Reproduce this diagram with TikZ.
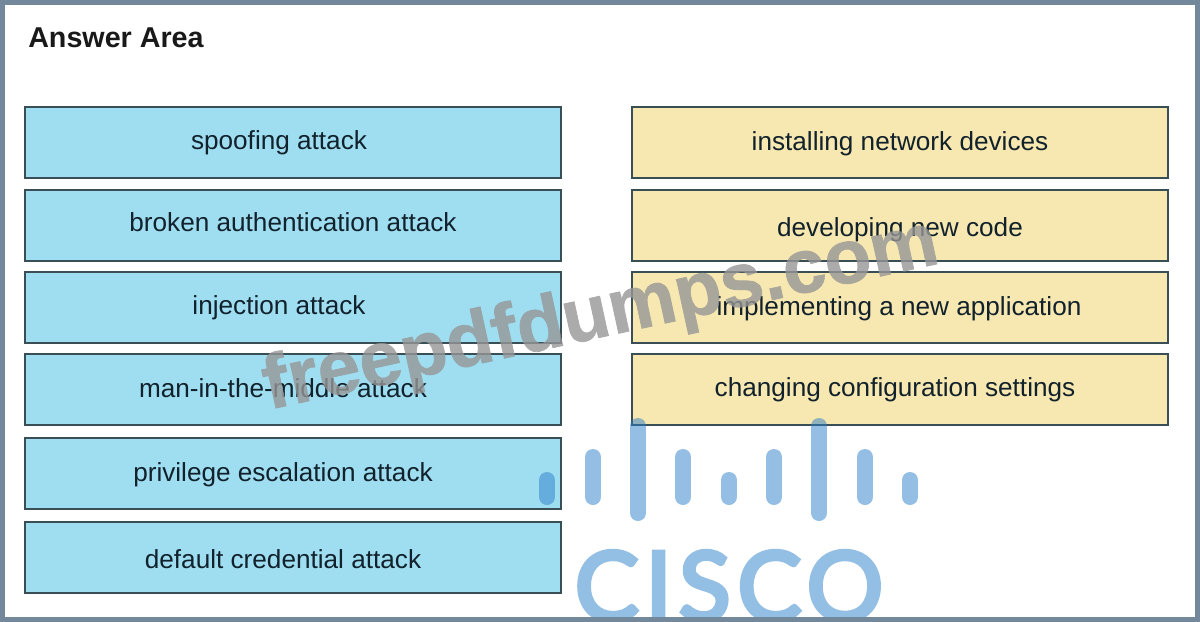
\documentclass[tikz,border=0pt]{standalone}
\usepackage{fontspec}
\setmainfont{Liberation Sans}
\newfontfamily\logofont[LetterSpace=7,FakeBold=4.5]{Lato}
\newfontfamily\markfont[FakeBold=1]{Liberation Sans Bold}
\definecolor{framegray}{HTML}{74889B}
\definecolor{attackblue}{HTML}{9FDDF1}
\definecolor{taskyellow}{HTML}{F7E7B0}
\definecolor{boxedge}{HTML}{3A4F55}
\definecolor{labelink}{HTML}{12222C}
\definecolor{logoblue}{HTML}{2A7FC9}
\definecolor{logopale}{HTML}{94BFE4}
\definecolor{markgray}{HTML}{969696}
\begin{document}
\begin{tikzpicture}[
    x=0.025cm, y=-0.025cm,
    % Styles
    attackbox/.style={draw=boxedge, fill=attackblue, line width=1.2pt, minimum width=13.4cm, minimum height=1.775cm, inner sep=0pt},
    taskbox/.style={draw=boxedge, fill=taskyellow, line width=1.2pt, minimum width=13.4cm, minimum height=1.775cm, inner sep=0pt},
    boxlabel/.style={font=\fontsize{18.6}{22}\selectfont, labelink, inner sep=0pt, text height=0.55cm, text depth=0.1cm},
    watermark/.style={font=\markfont\fontsize{54.4}{58}\selectfont, markgray, rotate=12.3, inner sep=0pt},
    logobar/.style={logoblue, opacity=0.5, line width=0.4cm, line cap=round},
    logotext/.style={font=\logofont\fontsize{68}{68}\selectfont, logopale, inner sep=0pt},
    framepart/.style={draw=none, fill=framegray},
]

% Background
\fill[white] (0,0) rectangle (1200,622);
\useasboundingbox (0,0) rectangle (1200,622);

% Title
\node[font=\fontsize{20.4}{24}\selectfont\bfseries, black!90, anchor=west, inner sep=0pt] (title) at (28,38) {Answer Area};

% LEFT SIDE: attacks
\node[attackbox] (spoofing) at (293,142.5) {};
\node[attackbox] (broken) at (293,225.5) {};
\node[attackbox] (injection) at (293,307.5) {};
\node[attackbox] (mitm) at (293,389.5) {};
\node[attackbox] (privilege) at (293,473.5) {};
\node[attackbox] (default) at (293,557.5) {};

\node[boxlabel] (spoofing-text) at (279,141) {spoofing attack};
\node[boxlabel] (broken-text) at (293,222) {broken authentication attack};
\node[boxlabel] (injection-text) at (279,305) {injection attack};
\node[boxlabel] (mitm-text) at (283,388) {man-in-the-middle attack};
\node[boxlabel] (privilege-text) at (283,472) {privilege escalation attack};
\node[boxlabel] (default-text) at (283,559) {default credential attack};

% RIGHT SIDE: tasks
\node[taskbox] (installing) at (900,142.5) {};
\node[taskbox] (developing) at (900,225.5) {};
\node[taskbox] (implementing) at (900,307.5) {};
\node[taskbox] (changing) at (900,389.5) {};

\node[boxlabel] (installing-text) at (900,142) {installing network devices};
\node[boxlabel] (developing-text) at (900,227) {developing new code};
\node[boxlabel] (implementing-text) at (899,306) {implementing a new application};
\node[boxlabel] (changing-text) at (895,387) {changing configuration settings};

% Watermark
\begin{scope}[opacity=0.8, transparency group]
    \node[watermark] (freepdf) at (601,317) {freepdfdumps.com};
\end{scope}

% Logo bars
\foreach \barx/\bartop/\barbot in {547/480/497, 593/457/497, 638/426/513, 683/457/497, 729/480/497, 774/457/497, 819/426/513, 865/457/497, 910/480/497}
    \draw[logobar] (\barx,\bartop) -- (\barx,\barbot);

% Logo text
\node[logotext] (cisco) at (729,586) {CISCO};

% Frame on top
\fill[framepart] (0,0) rectangle (1200,5);
\fill[framepart] (0,617) rectangle (1200,622);
\fill[framepart] (0,0) rectangle (5,622);
\fill[framepart] (1195,0) rectangle (1200,622);

\end{tikzpicture}
\end{document}
